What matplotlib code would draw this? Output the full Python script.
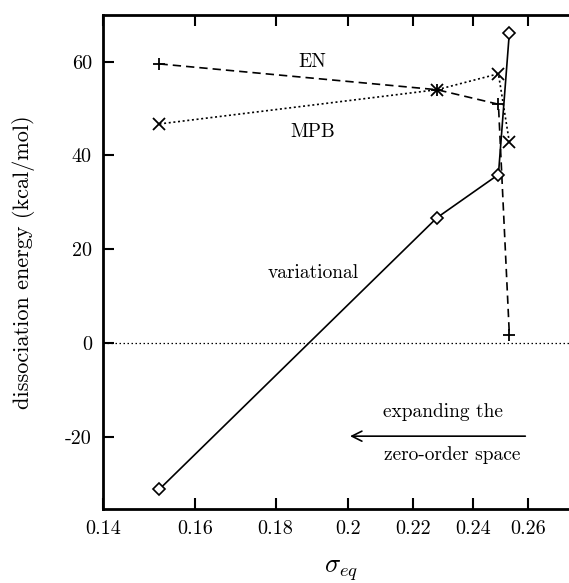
import matplotlib
matplotlib.use("Agg")
import matplotlib.pyplot as plt
from matplotlib.ticker import NullLocator

plt.rcParams['font.family'] = ['cmr10', 'DejaVu Serif']
plt.rcParams['mathtext.fontset'] = 'cm'
plt.rcParams['axes.unicode_minus'] = False

sigma = [0.152, 0.2277, 0.249, 0.253]
en = [59.5, 54.0, 50.9, 1.7]
mpb = [46.7, 54.0, 57.4, 42.8]
variational = [-31.2, 26.7, 35.9, 66.2]

xticks = [0.14, 0.16, 0.18, 0.2, 0.22, 0.24, 0.26]
xticklabels = ["0.14", "0.16", "0.18", "0.2", "0.22", "0.24", "0.26"]
yticks = [-20, 0, 20, 40, 60]
yticklabels = ["-20", "0", "20", "40", "60"]

fig = plt.figure(figsize=(5.69, 5.83), dpi=100)
ax = fig.add_axes([103/569, 1 - 509.3/583, (579 - 103)/569, (509.3 - 14.7)/583])
ax.set_xscale('log')
ax.set_xlim(0.14, 0.28)
ax.set_ylim(-35.5, 70)

ax.axhline(0, color='black', lw=0.9, ls=(0, (1.2, 2)))

ax.plot(sigma, en, color='black', lw=1.2, ls=(0, (5, 3)), marker='+', ms=9, mew=1.3)
ax.plot(sigma, mpb, color='black', lw=1.2, ls=(0, (1.2, 1.6)), marker='x', ms=8.5, mew=1.3)
ax.plot(sigma, variational, color='black', lw=1.2, ls='-', marker='D', ms=6.5, mew=1.2,
        mfc='white', mec='black')

ax.text(0.190, 60, "EN", ha='center', va='center', fontsize=14)
ax.text(0.190, 45.0, "MPB", ha='center', va='center', fontsize=14)
ax.text(0.190, 14.8, "variational", ha='center', va='center', fontsize=14)
ax.text(0.2297, -14.7, "expanding the", ha='center', va='center', fontsize=14)
ax.text(0.2327, -23.9, "zero-order space", ha='center', va='center', fontsize=14)
ax.annotate("", xy=(0.1998, -19.9), xytext=(0.26, -19.9),
            arrowprops=dict(arrowstyle='->', color='black', lw=1.2, mutation_scale=18))

ax.xaxis.set_minor_locator(NullLocator())
ax.set_xticks(xticks)
ax.set_xticklabels(xticklabels)
ax.set_yticks(yticks)
ax.set_yticklabels(yticklabels)
ax.tick_params(axis='both', direction='in', length=8, width=1.5, labelsize=14.5, pad=8)
ax.tick_params(axis='x', top=True)
ax.tick_params(axis='y', right=False)

for s in ['left', 'bottom', 'top']:
    ax.spines[s].set_linewidth(2)
ax.spines['right'].set_visible(False)

ax.set_xlabel(r"$\sigma_{eq}$", fontsize=19, labelpad=14)
ax.set_ylabel("dissociation energy (kcal/mol)", fontsize=16, labelpad=22)

fig.savefig("out.png", dpi=100)
